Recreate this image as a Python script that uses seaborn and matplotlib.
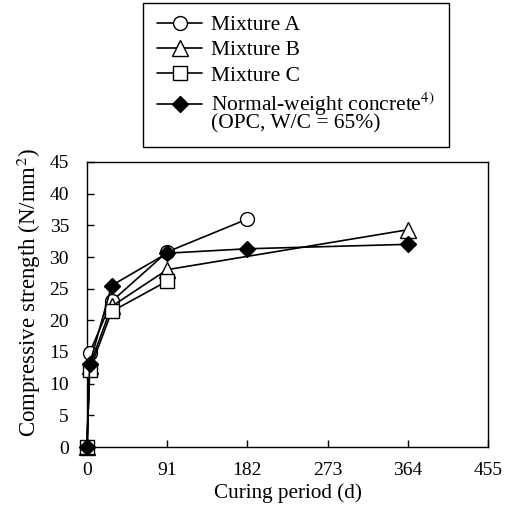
import pandas as pd
import matplotlib
matplotlib.use("Agg")
import matplotlib.pyplot as plt
from matplotlib.patches import Rectangle
from matplotlib.legend_handler import HandlerLine2D
from matplotlib.transforms import Affine2D
import seaborn as sns

# Data
curing_days = [0, 3, 28, 91, 182, 364]
mixture_a = [0, 14.9, 23.0, 30.8, 36.0, None]
mixture_b = [0, 12.8, 22.2, 28.0, None, 34.3]
mixture_c = [0, 12.1, 21.4, 26.2, None, None]
normal_weight = [0, 13.1, 25.5, 30.6, 31.3, 32.0]

series_names = ["Mixture A", "Mixture B", "Mixture C",
                "Normal-weight concrete$^{4)}$\n(OPC, W/C = 65%)"]
x_ticks = [0, 91, 182, 273, 364, 455]
y_ticks = list(range(0, 50, 5))

sns.set_theme(style="ticks")
plt.rcParams['font.family'] = ['Liberation Serif', 'DejaVu Serif']
plt.rcParams['mathtext.fontset'] = 'stix'


class RaisedLine(HandlerLine2D):
    # keeps the handle level with the first line of a two-line label
    def __init__(self, shift, **kw):
        super().__init__(**kw)
        self.shift = shift

    def create_artists(self, legend, orig_handle, xdescent, ydescent,
                       width, height, fontsize, trans):
        arts = super().create_artists(legend, orig_handle, xdescent, ydescent,
                                      width, height, fontsize, trans)
        for a in arts:
            a.set_transform(Affine2D().translate(0, self.shift) + trans)
        return arts


rows = []
for name, vals in zip(series_names, [mixture_a, mixture_b, mixture_c, normal_weight]):
    for d, v in zip(curing_days, vals):
        if v is not None:
            rows.append({"Curing": d, "Strength": v, "Series": name})
df = pd.DataFrame(rows)

styles = {
    series_names[0]: dict(marker="o", markerfacecolor="white"),
    series_names[1]: dict(marker="^", markerfacecolor="white", markersize=11),
    series_names[2]: dict(marker="s", markerfacecolor="white"),
    series_names[3]: dict(marker="D", markerfacecolor="black", markersize=8.5),
}

W, H = 513, 512
fig = plt.figure(figsize=(W / 100, H / 100), dpi=100)
ax = fig.add_axes([87 / W, 1 - 447 / H, (488 - 87) / W, (447 - 162) / H])

handles = []
for name in series_names:
    sub = df[df["Series"] == name]
    kw = dict(markersize=10, markeredgecolor="black", markeredgewidth=1.0)
    kw.update(styles[name])
    sns.lineplot(data=sub, x="Curing", y="Strength", ax=ax, color="black",
                 linewidth=1.2, legend=False, clip_on=False, zorder=3, **kw)
    handles.append(ax.lines[-1])

ax.set_xlim(0, 455)
ax.set_ylim(0, 45)
ax.set_xticks(x_ticks)
ax.set_yticks(y_ticks)
ax.tick_params(direction="in", length=5, width=1, colors="black", labelsize=14,
               top=False, right=False)
ax.tick_params(axis="x", pad=11)
ax.tick_params(axis="y", pad=13)
for s in ax.spines.values():
    s.set_color("black")
    s.set_linewidth(1.0)
ax.set_xlabel("Curing period (d)", fontsize=15.2, color="black", labelpad=3)
ax.set_ylabel("Compressive strength (N/mm$^2$)", fontsize=16.5, color="black")
ax.yaxis.set_label_coords(-0.11, 0.54)

# legend box sits above the axes
fig.patches.append(Rectangle((143 / W, 1 - 147 / H), (449 - 143) / W, (147 - 3) / H,
                             transform=fig.transFigure, fill=False,
                             edgecolor="black", linewidth=1.0))
leg = fig.legend(handles, series_names, loc="upper left",
                 bbox_to_anchor=(157 / W, 1 - 15 / H),
                 fontsize=15.5, frameon=False, handlelength=2.1, handletextpad=0.4,
                 labelspacing=0.24, borderpad=0, borderaxespad=0,
                 handler_map={handles[3]: RaisedLine(5.5)})
for t in leg.get_texts():
    t.set_color("black")
    t.set_linespacing(0.75)

fig.savefig("out.png", dpi=100)
